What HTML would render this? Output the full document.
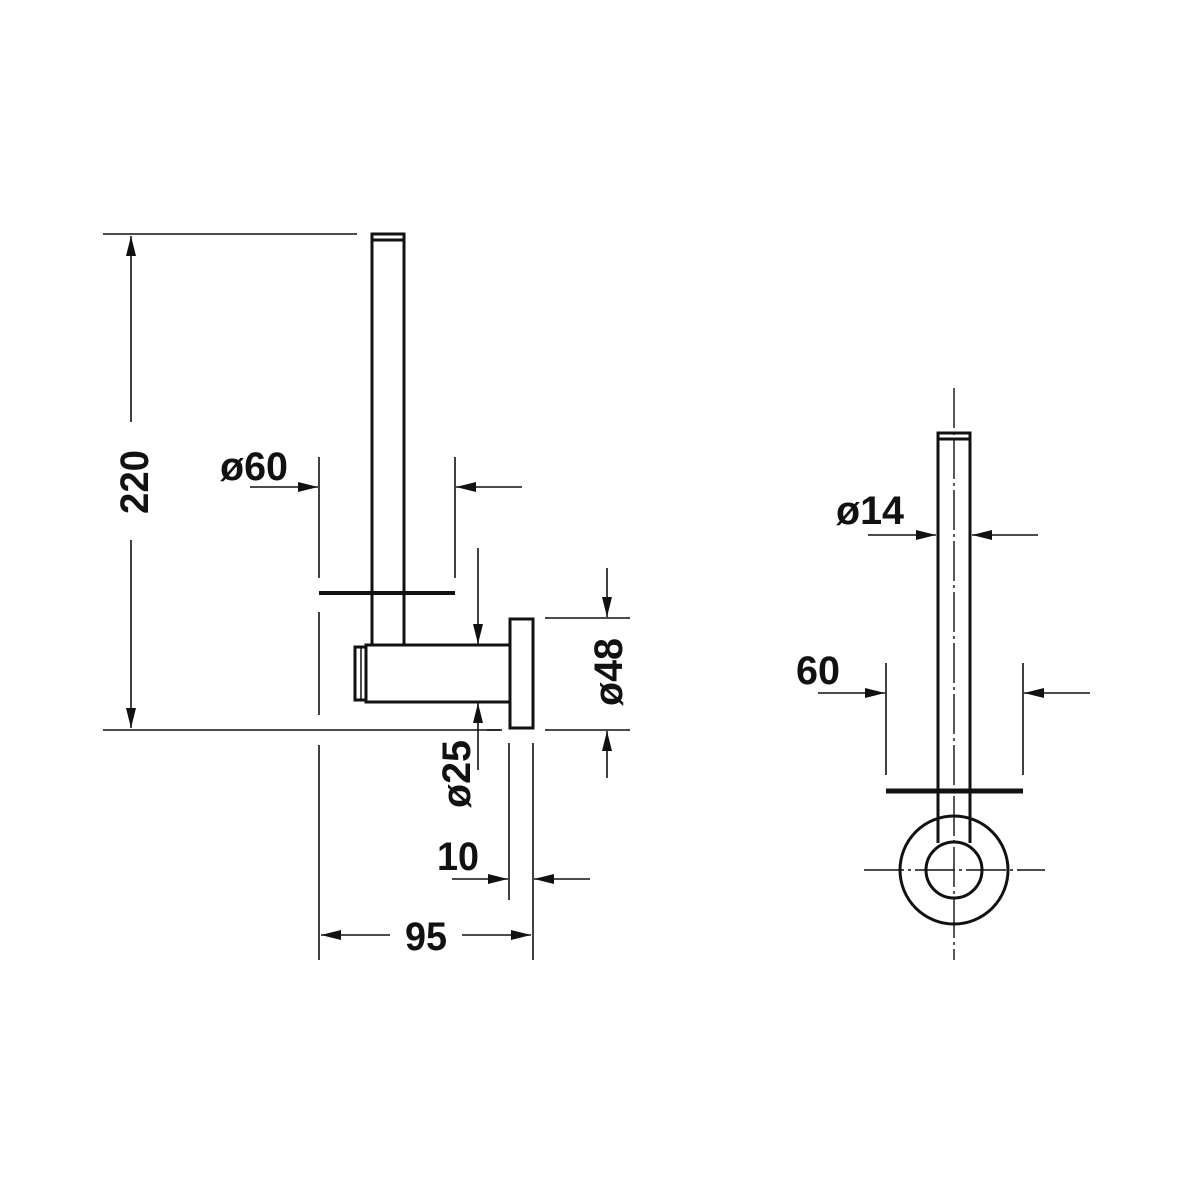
<!DOCTYPE html>
<html><head><meta charset="utf-8"><style>html,body{margin:0;padding:0;background:#fff}svg{display:block}</style></head>
<body>
<svg width="1200" height="1200" viewBox="0 0 1200 1200" xmlns="http://www.w3.org/2000/svg">
<defs>
<marker id="a" viewBox="0 0 20 10" refX="20" refY="5" markerWidth="20" markerHeight="10" markerUnits="userSpaceOnUse" orient="auto"><path d="M0,0 L20,5 L0,10 z" fill="#111"/></marker>
</defs>
<g stroke="#111" fill="none" stroke-width="1.6">
<!-- Left view -->
<line x1="103" y1="234" x2="357" y2="234"/>
<line x1="103" y1="730" x2="500" y2="730"/>
<line x1="131" y1="422" x2="131" y2="236" marker-end="url(#a)"/>
<line x1="131" y1="540" x2="131" y2="728" marker-end="url(#a)"/>
<!-- rod -->
<g stroke-width="3">
<rect x="372" y="234" width="32" height="6"/>
<line x1="372" y1="240" x2="372" y2="645"/>
<line x1="404" y1="240" x2="404" y2="645"/>
<rect x="366" y="645" width="144" height="57"/>
<rect x="355" y="647" width="11" height="53"/>
<line x1="361" y1="647" x2="361" y2="700" stroke-width="1.5"/>
<rect x="510" y="619" width="23" height="109"/>
</g>
<line x1="319" y1="593" x2="455" y2="593" stroke-width="4"/>
<!-- ø60 -->
<line x1="319" y1="457" x2="319" y2="578"/>
<line x1="319" y1="612" x2="319" y2="715"/>
<line x1="319" y1="745" x2="319" y2="960"/>
<line x1="455" y1="457" x2="455" y2="578"/>
<line x1="250" y1="487" x2="318" y2="487" marker-end="url(#a)"/>
<line x1="522" y1="487" x2="456" y2="487" marker-end="url(#a)"/>
<!-- ø25 -->
<line x1="478" y1="548" x2="478" y2="644" marker-end="url(#a)"/>
<line x1="478" y1="770" x2="478" y2="703" marker-end="url(#a)"/>
<line x1="487" y1="730" x2="502" y2="730"/>
<!-- ø48 -->
<line x1="545" y1="618" x2="630" y2="618"/>
<line x1="545" y1="730" x2="630" y2="730"/>
<line x1="607" y1="568" x2="607" y2="617" marker-end="url(#a)"/>
<line x1="607" y1="778" x2="607" y2="731" marker-end="url(#a)"/>
<!-- 10 / 95 -->
<line x1="509" y1="743" x2="509" y2="900"/>
<line x1="533" y1="743" x2="533" y2="960"/>
<line x1="452" y1="879" x2="508" y2="879" marker-end="url(#a)"/>
<line x1="590" y1="879" x2="534" y2="879" marker-end="url(#a)"/>
<line x1="390" y1="935" x2="321" y2="935" marker-end="url(#a)"/>
<line x1="462" y1="935" x2="531" y2="935" marker-end="url(#a)"/>
<!-- Right view -->
<g stroke-width="3">
<rect x="938" y="433" width="32" height="6"/>
<line x1="938" y1="439" x2="938" y2="843"/>
<line x1="970" y1="439" x2="970" y2="843"/>
<circle cx="954" cy="870" r="54"/>
<circle cx="954" cy="870" r="28"/>
</g>
<line x1="886" y1="791" x2="1023" y2="791" stroke-width="5"/>
<line x1="954" y1="388" x2="954" y2="960" stroke-width="1.4" stroke-dasharray="40 4 3 4"/>
<line x1="864" y1="870" x2="1045" y2="870" stroke-width="1.4" stroke-dasharray="40 4 3 4"/>
<line x1="868" y1="535" x2="936" y2="535" marker-end="url(#a)"/>
<line x1="1038" y1="535" x2="972" y2="535" marker-end="url(#a)"/>
<line x1="886" y1="663" x2="886" y2="775"/>
<line x1="1023" y1="663" x2="1023" y2="775"/>
<line x1="818" y1="693" x2="885" y2="693" marker-end="url(#a)"/>
<line x1="1090" y1="693" x2="1024" y2="693" marker-end="url(#a)"/>
</g>
<g font-family="'Liberation Sans Narrow','Liberation Sans',sans-serif" font-weight="bold" font-size="40" fill="#111">
<text x="0" y="0" transform="translate(148,514) rotate(-90)" textLength="64" lengthAdjust="spacingAndGlyphs">220</text>
<text x="220" y="480" textLength="68" lengthAdjust="spacingAndGlyphs">ø60</text>
<text x="0" y="0" transform="translate(622,706) rotate(-90)" textLength="68" lengthAdjust="spacingAndGlyphs">ø48</text>
<text x="0" y="0" transform="translate(470,808) rotate(-90)" textLength="68" lengthAdjust="spacingAndGlyphs">ø25</text>
<text x="437" y="870" textLength="42" lengthAdjust="spacingAndGlyphs">10</text>
<text x="405" y="950" textLength="42" lengthAdjust="spacingAndGlyphs">95</text>
<text x="836" y="524" textLength="68" lengthAdjust="spacingAndGlyphs">ø14</text>
<text x="796" y="684" textLength="44" lengthAdjust="spacingAndGlyphs">60</text>
</g>
</svg>
</body></html>
